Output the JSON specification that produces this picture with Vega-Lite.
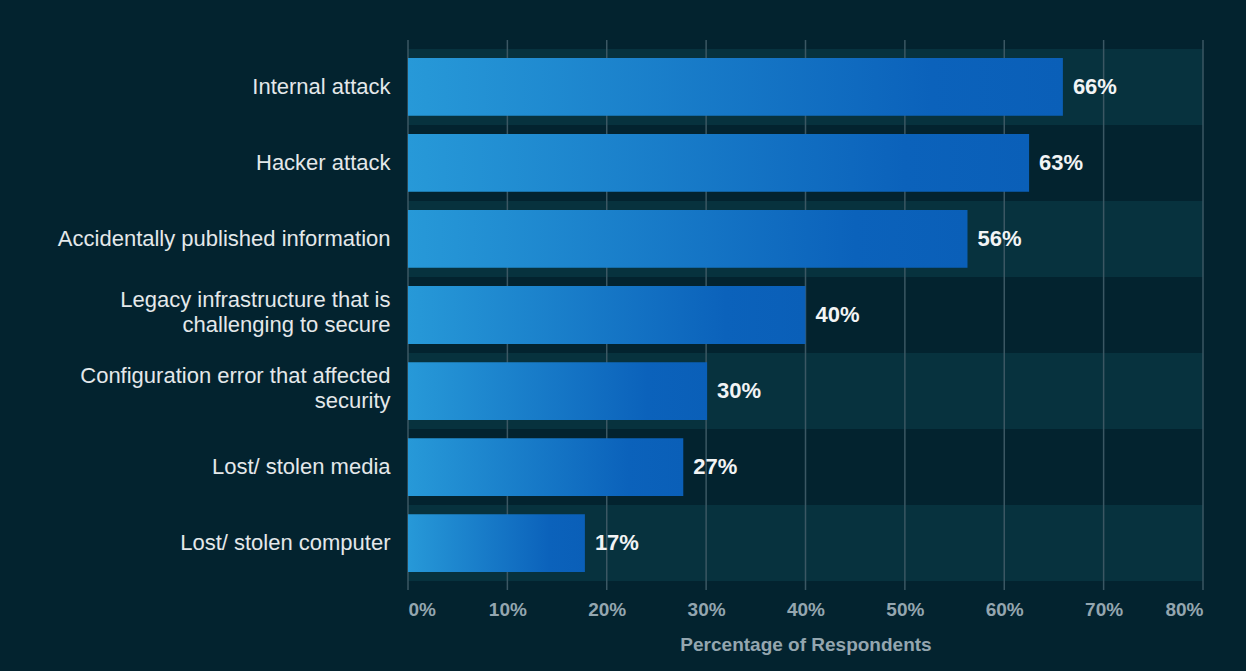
{
  "$schema": "https://vega.github.io/schema/vega-lite/v6.json",
  "width": 795,
  "height": 550,
  "autosize": {"type": "none"},
  "padding": {"left": 408, "top": 40, "right": 43, "bottom": 81},
  "background": "#03232f",
  "config": {
    "view": {"stroke": null},
    "font": "Liberation Sans",
    "axisX": {
      "domain": false, "ticks": false, "grid": false,
      "labelPadding": 10, "labelFontSize": 19, "labelFontWeight": "bold", "labelColor": "#94a6af",
      "titleFontSize": 19, "titleFontWeight": "bold", "titleColor": "#94a6af", "titlePadding": 16
    },
    "axisY": {
      "domain": false, "ticks": false, "grid": false,
      "labelPadding": 18, "labelFontSize": 22, "labelColor": "#e4e8ea", "labelLimit": 400,
      "labelLineHeight": 25
    }
  },
  "datasets": {
    "causes": [
      {"cause": "Internal attack", "value": 65.9, "label": "66%"},
      {"cause": "Hacker attack", "value": 62.5, "label": "63%"},
      {"cause": "Accidentally published information", "value": 56.3, "label": "56%"},
      {"cause": "Legacy infrastructure that is\nchallenging to secure", "value": 40.0, "label": "40%"},
      {"cause": "Configuration error that affected\nsecurity", "value": 30.1, "label": "30%"},
      {"cause": "Lost/ stolen media", "value": 27.7, "label": "27%"},
      {"cause": "Lost/ stolen computer", "value": 17.8, "label": "17%"}
    ],
    "grid": [
      {"t": 0}, {"t": 10}, {"t": 20}, {"t": 30}, {"t": 40}, {"t": 50}, {"t": 60}, {"t": 70}, {"t": 80}
    ]
  },
  "data": {"name": "causes"},
  "layer": [
    {
      "transform": [{"window": [{"op": "row_number", "as": "i"}]}],
      "mark": {"type": "rect", "fill": "#07323e"},
      "encoding": {
        "y": {"field": "cause", "type": "nominal", "sort": null, "title": null,
              "scale": {"paddingInner": 0, "paddingOuter": 0.118},
              "axis": {
                "labelExpr": "split(datum.label, '\\n')",
                "labelOffset": {"condition": {"test": "indexof(datum.value, '\\n') >= 0", "value": -15}, "value": 0}
              }},
        "x": {"datum": 0, "type": "quantitative", "title": "Percentage of Respondents"},
        "x2": {"datum": 80},
        "opacity": {"condition": {"test": "datum.i % 2 == 1", "value": 1}, "value": 0}
      }
    },
    {
      "data": {"name": "grid"},
      "mark": {"type": "rule", "color": "#3b5763", "strokeWidth": 1.5},
      "encoding": {
        "x": {"field": "t", "type": "quantitative", "title": "Percentage of Respondents"}
      }
    },
    {
      "mark": {
        "type": "bar",
        "height": {"band": 0.76},
        "color": {
          "gradient": "linear",
          "x1": 0, "y1": 0.5, "x2": 1, "y2": 0.5,
          "stops": [
            {"offset": 0, "color": "#2799d8"},
            {"offset": 0.8, "color": "#0b62bb"},
            {"offset": 1, "color": "#0a5fb8"}
          ]
        }
      },
      "encoding": {
        "y": {"field": "cause", "type": "nominal", "sort": null, "title": null},
        "x": {"field": "value", "type": "quantitative", "title": "Percentage of Respondents",
              "scale": {"domain": [0, 80], "nice": false},
              "axis": {"values": [0, 10, 20, 30, 40, 50, 60, 70, 80], "labelExpr": "datum.value + '%'"}}
      }
    },
    {
      "mark": {"type": "text", "align": "left", "baseline": "middle", "dx": 10, "fontSize": 22, "fontWeight": "bold", "fill": "#f2f4f5"},
      "encoding": {
        "y": {"field": "cause", "type": "nominal", "sort": null, "title": null},
        "x": {"field": "value", "type": "quantitative", "title": "Percentage of Respondents"},
        "text": {"field": "label"}
      }
    }
  ]
}
